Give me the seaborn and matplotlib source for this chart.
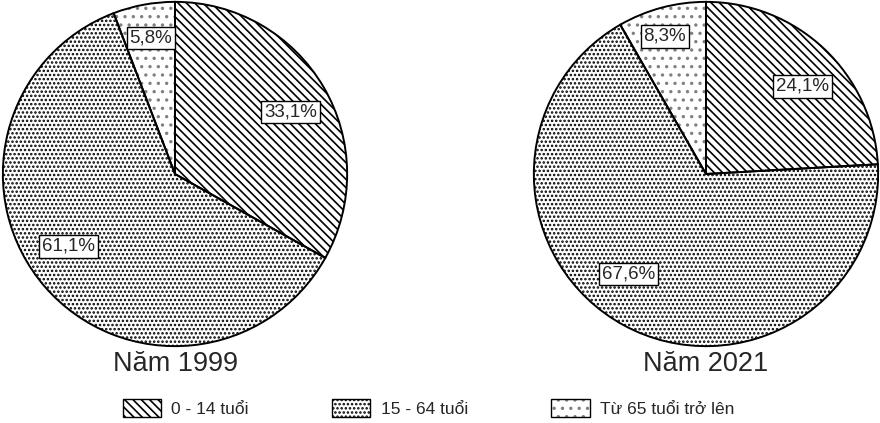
import matplotlib
matplotlib.use("Agg")
import matplotlib.pyplot as plt
from matplotlib.patches import Patch
from matplotlib.legend_handler import HandlerTuple
import seaborn as sns

# Co cau dan so theo nhom tuoi (%)
nhom_tuoi = ["0 - 14 tuổi", "15 - 64 tuổi", "Từ 65 tuổi trở lên"]
nam = ["Năm 1999", "Năm 2021"]
ty_le_1999 = [33.1, 61.1, 5.8]
ty_le_2021 = [24.1, 67.6, 8.3]

# kieu to va vi tri nhan (toa do tuong doi theo ban kinh)
hoa_van = ["\\\\\\\\", "....", ".."]
mau_hoa_van = ["black", "black", "0.5"]
vi_tri_1999 = [(0.67, 0.36), (-0.62, -0.42), (-0.14, 0.79)]
vi_tri_2021 = [(0.56, 0.51), (-0.45, -0.58), (-0.24, 0.80)]

sns.set_theme(style="white")
plt.rcParams["font.family"] = ["Liberation Sans", "DejaVu Sans"]
plt.rcParams["hatch.linewidth"] = 1.2

fig = plt.figure(figsize=(8.8, 4.23), dpi=100)
ax1 = fig.add_axes([2 / 880, 76 / 423, 346 / 880, 346 / 423])
ax2 = fig.add_axes([533 / 880, 76 / 423, 346 / 880, 346 / 423])


def ve_tron(ax, gia_tri, tieu_de, vi_tri):
    # lop 1: nen co hoa van (mau net = mau hoa van)
    wedges, _ = ax.pie(
        gia_tri, startangle=90, counterclock=False,
        colors=["white"] * 3, wedgeprops=dict(linewidth=0),
    )
    for w, h, c in zip(wedges, hoa_van, mau_hoa_van):
        w.set_hatch(h)
        w.set_edgecolor(c)
        w.set_linewidth(0)
    # lop 2: vien den
    ax.pie(
        gia_tri, startangle=90, counterclock=False,
        wedgeprops=dict(fill=False, edgecolor="black", linewidth=1.4),
    )
    for v, (x, y) in zip(gia_tri, vi_tri):
        ax.text(x, y, f"{v:.1f}%".replace(".", ","), fontsize=13.5,
                ha="center", va="center",
                bbox=dict(facecolor="white", edgecolor="black", linewidth=1.0, pad=2))
    ax.set_xlim(-1.005, 1.005)
    ax.set_ylim(-1.005, 1.005)
    ax.set_aspect("equal")
    ax.text(0, -1.105, tieu_de, ha="center", va="center", fontsize=19.5)


ve_tron(ax1, ty_le_1999, nam[0], vi_tri_1999)
ve_tron(ax2, ty_le_2021, nam[1], vi_tri_2021)

# o chu thich: hoa van + vien den chong len nhau
handles = []
for h, c in zip(hoa_van, mau_hoa_van):
    nen = Patch(facecolor="white", edgecolor=c, hatch=h, linewidth=0)
    vien = Patch(fill=False, edgecolor="black", linewidth=1.0)
    handles.append((nen, vien))
fig.legend(handles, nhom_tuoi, loc="center", bbox_to_anchor=(0.487, 0.035),
           ncol=3, frameon=False, fontsize=12.5, handlelength=2.2,
           handleheight=1.2, columnspacing=4.8, handletextpad=0.6,
           handler_map={tuple: HandlerTuple(ndivide=1)})

fig.savefig("out.png", dpi=100)
